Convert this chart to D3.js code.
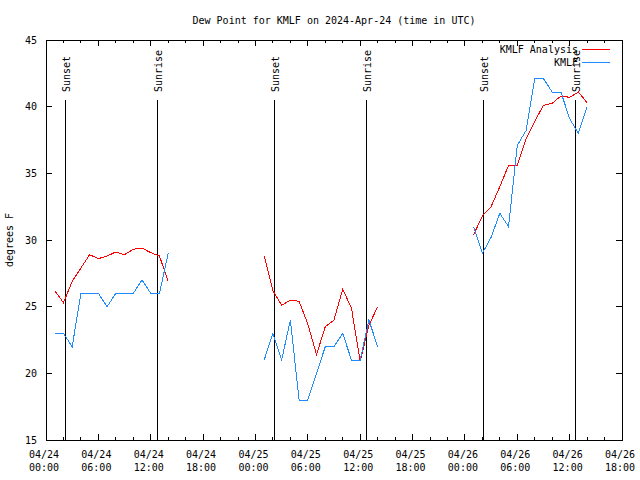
<!DOCTYPE html>
<html>
<head>
<meta charset="utf-8">
<script src="https://cdn.jsdelivr.net/npm/d3@7"></script>
<style>
  body { margin: 0; background: #fff; }
  text { font-family: "DejaVu Sans Mono", "Liberation Mono", monospace; font-size: 10px; fill: #000; }
</style>
</head>
<body>
<script>
// hours after 2024-04-24 00:00 UTC for each run
const hours1 = [1, 2, 3, 4, 5, 6, 7, 8, 9, 10, 11, 12, 13, 14];
const hours2 = [25, 26, 27, 28, 29, 30, 31, 32, 33, 34, 35, 36, 37, 38];
const hours3 = [49, 50, 51, 52, 53, 54, 55, 56, 57, 58, 59, 60, 61, 62];

const analysis1 = [26.2, 25.3, 26.9, 27.9, 28.9, 28.6, 28.8, 29.1, 28.9, 29.3, 29.4, 29.05, 28.8, 26.9];
const analysis2 = [28.8, 26.2, 25.1, 25.5, 25.4, 23.7, 21.4, 23.5, 24.0, 26.3, 24.9, 20.9, 23.6, 25.0];
const analysis3 = [30.4, 31.8, 32.5, 34.0, 35.6, 35.6, 37.6, 38.9, 40.1, 40.25, 40.8, 40.7, 41.1, 40.3];

const obs1 = [23, 23, 22, 26, 26, 26, 25, 26, 26, 26, 27, 26, 26, 29];
const obs2 = [21, 23, 21, 24, 18, 18, 20, 22, 22, 23, 21, 21, 24, 22];
const obs3 = [31, 29, 30.2, 32, 31, 37.1, 38.2, 42.1, 42.1, 41.1, 41.1, 39.1, 38, 40];

const sunEvents = ["Sunset", "Sunrise", "Sunset", "Sunrise", "Sunset", "Sunrise"];
const sunTimes = ["2024-04-24T02:13Z", "2024-04-24T12:45Z", "2024-04-25T02:10Z",
                  "2024-04-25T12:43Z", "2024-04-26T02:09Z", "2024-04-26T12:42Z"];

const yTicks = [15, 20, 25, 30, 35, 40, 45];
const legendNames = ["KMLF Analysis", "KMLF"];
const colors = ["#ff0000", "#1e8cff"];

const width = 640, height = 480;
const margin = { top: 40, right: 18, bottom: 40, left: 46 };

const start = new Date(Date.UTC(2024, 3, 24, 0));
const end = new Date(Date.UTC(2024, 3, 26, 18));
const toDate = h => new Date(start.getTime() + h * 3600e3);

const svg = d3.select("body").append("svg")
  .attr("width", width)
  .attr("height", height);

const x = d3.scaleUtc()
  .domain([start, end])
  .range([margin.left, width - margin.right]);

const y = d3.scaleLinear()
  .domain([15, 45])
  .range([height - margin.bottom, margin.top]);

// title + y label
svg.append("text")
  .attr("x", (margin.left + width - margin.right) / 2)
  .attr("y", 24)
  .attr("text-anchor", "middle")
  .text("Dew Point for KMLF on 2024-Apr-24 (time in UTC)");

svg.append("text")
  .attr("transform", "translate(13,240) rotate(-90)")
  .attr("text-anchor", "middle")
  .text("degrees F");

// ticks
const majorTicks = x.ticks(d3.utcHour.every(6));
const minorTicks = x.ticks(d3.utcHour.every(2));
const ax = svg.append("g").attr("shape-rendering", "crispEdges").attr("stroke", "#000");

minorTicks.forEach(t => {
  const major = t.getUTCHours() % 6 === 0;
  const len = major ? 6 : 3;
  ax.append("line").attr("x1", x(t)).attr("x2", x(t))
    .attr("y1", y(15)).attr("y2", y(15) - len);
  ax.append("line").attr("x1", x(t)).attr("x2", x(t))
    .attr("y1", y(45)).attr("y2", y(45) + len);
});

yTicks.forEach(v => {
  ax.append("line").attr("x1", margin.left).attr("x2", margin.left + 6)
    .attr("y1", y(v)).attr("y2", y(v));
  ax.append("line").attr("x1", width - margin.right).attr("x2", width - margin.right - 6)
    .attr("y1", y(v)).attr("y2", y(v));
  svg.append("text")
    .attr("x", 37)
    .attr("y", y(v))
    .attr("dy", "0.35em")
    .attr("text-anchor", "end")
    .text(v);
});

const fmtDay = d3.utcFormat("%m/%d");
const fmtTime = d3.utcFormat("%H:%M");
majorTicks.forEach(t => {
  const lbl = svg.append("text")
    .attr("text-anchor", "middle")
    .attr("x", x(t) - 2);
  lbl.append("tspan").attr("x", x(t) - 2).attr("y", 458).text(fmtDay(t));
  lbl.append("tspan").attr("x", x(t) - 2).attr("y", 471).text(fmtTime(t));
});

// sunrise / sunset markers
sunTimes.forEach((s, i) => {
  const sx = Math.floor(x(new Date(s))) + 0.5;
  svg.append("line")
    .attr("x1", sx).attr("x2", sx)
    .attr("y1", y(40.5)).attr("y2", y(15))
    .attr("stroke", "#000")
    .attr("shape-rendering", "crispEdges");
  svg.append("text")
    .attr("transform", `translate(${sx + 4},92) rotate(-90)`)
    .text(sunEvents[i]);
});

// plot frame
svg.append("rect")
  .attr("x", margin.left + 0.5)
  .attr("y", margin.top + 0.5)
  .attr("width", width - margin.left - margin.right)
  .attr("height", height - margin.top - margin.bottom)
  .attr("fill", "none")
  .attr("stroke", "#000")
  .attr("shape-rendering", "crispEdges");

// series
const line = d3.line()
  .x(d => x(toDate(d[0])))
  .y(d => y(d[1]));

const runs = [
  [hours1, analysis1, obs1],
  [hours2, analysis2, obs2],
  [hours3, analysis3, obs3]
];

runs.forEach(([hrs, an, ob]) => {
  svg.append("path")
    .datum(hrs.map((h, i) => [h, an[i]]))
    .attr("d", line)
    .attr("fill", "none")
    .attr("stroke", colors[0])
    .attr("stroke-width", 1)
    .attr("shape-rendering", "crispEdges");
  svg.append("path")
    .datum(hrs.map((h, i) => [h, ob[i]]))
    .attr("d", line)
    .attr("fill", "none")
    .attr("stroke", colors[1])
    .attr("stroke-width", 1)
    .attr("shape-rendering", "crispEdges");
});

// legend
legendNames.forEach((name, i) => {
  const ly = 49 + i * 13;
  svg.append("text")
    .attr("x", 578)
    .attr("y", ly)
    .attr("dy", "0.35em")
    .attr("text-anchor", "end")
    .text(name);
  svg.append("line")
    .attr("x1", 582).attr("x2", 610)
    .attr("y1", ly + 0.5).attr("y2", ly + 0.5)
    .attr("stroke", colors[i])
    .attr("shape-rendering", "crispEdges");
});
</script>
</body>
</html>
